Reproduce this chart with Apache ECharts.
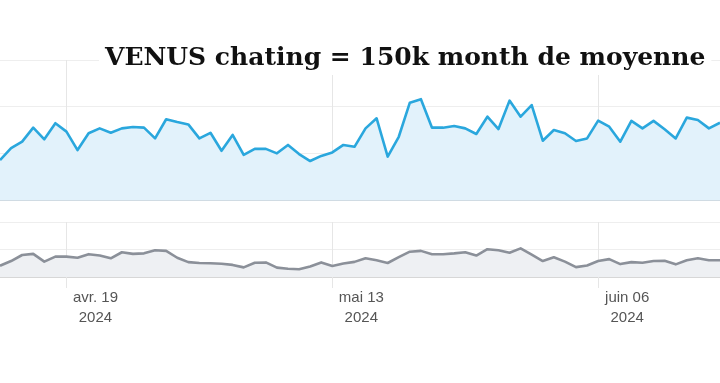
<!DOCTYPE html>
<html>
<head>
<meta charset="utf-8">
<style>
  html, body { margin: 0; padding: 0; background: #ffffff; }
  #chart { width: 720px; height: 383px; }
</style>
<script src="https://cdn.jsdelivr.net/npm/echarts@6/dist/echarts.min.js"></script>
</head>
<body>
<div id="chart"></div>
<script>
var titleText = 'VENUS chating = 150k month de moyenne';

var dates = [
  '2024-04-13','2024-04-14','2024-04-15','2024-04-16','2024-04-17','2024-04-18','2024-04-19','2024-04-20',
  '2024-04-21','2024-04-22','2024-04-23','2024-04-24','2024-04-25','2024-04-26','2024-04-27','2024-04-28',
  '2024-04-29','2024-04-30','2024-05-01','2024-05-02','2024-05-03','2024-05-04','2024-05-05','2024-05-06',
  '2024-05-07','2024-05-08','2024-05-09','2024-05-10','2024-05-11','2024-05-12','2024-05-13','2024-05-14',
  '2024-05-15','2024-05-16','2024-05-17','2024-05-18','2024-05-19','2024-05-20','2024-05-21','2024-05-22',
  '2024-05-23','2024-05-24','2024-05-25','2024-05-26','2024-05-27','2024-05-28','2024-05-29','2024-05-30',
  '2024-05-31','2024-06-01','2024-06-02','2024-06-03','2024-06-04','2024-06-05','2024-06-06','2024-06-07',
  '2024-06-08','2024-06-09','2024-06-10','2024-06-11','2024-06-12','2024-06-13','2024-06-14','2024-06-15',
  '2024-06-16','2024-06-17'
];

var mainValues = [
  1710, 2220, 2500, 3100, 2600, 3290, 2930, 2140, 2860, 3070, 2880, 3070, 3130, 3100, 2640, 3460,
  3340, 3240, 2640, 2880, 2110, 2790, 1930, 2190, 2190, 2000, 2360, 1970, 1670, 1890, 2040, 2360,
  2280, 3070, 3500, 1860, 2710, 4170, 4320, 3100, 3100, 3170, 3070, 2830, 3570, 3040, 4260, 3570,
  4070, 2540, 3000, 2860, 2530, 2640, 3400, 3140, 2500, 3390, 3070, 3390, 3030, 2640, 3530, 3430,
  3070, 3310
];

var overviewValues = [
  410, 580, 800, 840, 560, 740, 740, 700, 830, 780, 680, 900, 840, 860, 970, 950,
  700, 540, 510, 500, 480, 440, 350, 520, 530, 340, 300, 280, 380, 530, 400, 490,
  550, 680, 610, 510, 720, 920, 950, 830, 830, 860, 900, 780, 1010, 970, 880, 1040,
  810, 580, 720, 560, 360, 420, 580, 650, 470, 540, 520, 580, 590, 460, 610, 680,
  610, 610
];

var tickDates = ['2024-04-19', '2024-05-13', '2024-06-06'];
var tickLabels = ['avr. 19', 'mai 13', 'juin 06'];
var tickYears = ['2024', '2024', '2024'];

function isTick(index, value) {
  return tickDates.indexOf(value) !== -1;
}

var chart = echarts.init(document.getElementById('chart'), null, { renderer: 'canvas' });

var gridLineColor = '#eeeeee';
var vLineColor = '#e6e6e6';

chart.setOption({
  backgroundColor: '#ffffff',
  animation: false,
  title: {
    text: titleText,
    left: 99,
    top: 43,
    padding: [3, 6, 4, 6],
    backgroundColor: '#ffffff',
    textStyle: {
      fontFamily: 'DejaVu Serif',
      fontWeight: 'bold',
      fontSize: 25,
      color: '#111111'
    }
  },
  grid: [
    { left: 0, top: 60, height: 140, width: 65 * 11.12, containLabel: false },
    { left: 0, top: 222, height: 55, width: 65 * 11.12, containLabel: false }
  ],
  xAxis: [
    {
      type: 'category',
      gridIndex: 0,
      data: dates,
      boundaryGap: false,
      axisLine: { show: true, lineStyle: { color: '#c6d4df', width: 1.5 } },
      axisTick: { show: false },
      axisLabel: { show: false },
      splitLine: { show: true, interval: isTick, lineStyle: { color: vLineColor, width: 1 } }
    },
    {
      type: 'category',
      gridIndex: 1,
      data: dates,
      boundaryGap: false,
      axisLine: { show: true, lineStyle: { color: '#cfcfcf', width: 1.5 } },
      axisTick: { show: true, interval: isTick, length: 11, lineStyle: { color: vLineColor, width: 1 } },
      splitLine: { show: true, interval: isTick, lineStyle: { color: vLineColor, width: 1 } },
      axisLabel: {
        show: true,
        interval: isTick,
        align: 'left',
        verticalAlign: 'top',
        margin: 11,
        formatter: function (value) {
          var k = tickDates.indexOf(value);
          if (k === -1) return '';
          return '{a|' + tickLabels[k] + '}\n{a|' + tickYears[k] + '}';
        },
        rich: {
          a: {
            width: 58,
            align: 'center',
            lineHeight: 20,
            fontSize: 15,
            fontFamily: 'Liberation Sans',
            color: '#555555'
          }
        }
      }
    }
  ],
  yAxis: [
    {
      type: 'value',
      gridIndex: 0,
      min: 0,
      max: 6000,
      interval: 2000,
      axisLine: { show: false },
      axisTick: { show: false },
      axisLabel: { show: false },
      splitLine: { show: true, lineStyle: { color: gridLineColor, width: 1 } }
    },
    {
      type: 'value',
      gridIndex: 1,
      min: 0,
      max: 2000,
      interval: 1000,
      axisLine: { show: false },
      axisTick: { show: false },
      axisLabel: { show: false },
      splitLine: { show: true, lineStyle: { color: gridLineColor, width: 1 } }
    }
  ],
  series: [
    {
      type: 'line',
      xAxisIndex: 0,
      yAxisIndex: 0,
      data: mainValues,
      symbol: 'none',
      z: 3,
      lineStyle: { color: '#2aa7dd', width: 2.6, join: 'round' },
      areaStyle: { color: '#e2f2fb', opacity: 1 }
    },
    {
      type: 'line',
      xAxisIndex: 1,
      yAxisIndex: 1,
      data: overviewValues,
      symbol: 'none',
      z: 3,
      lineStyle: { color: '#8b9099', width: 2.6, join: 'round' },
      areaStyle: { color: '#eef0f3', opacity: 1 }
    }
  ]
});
</script>
</body>
</html>
